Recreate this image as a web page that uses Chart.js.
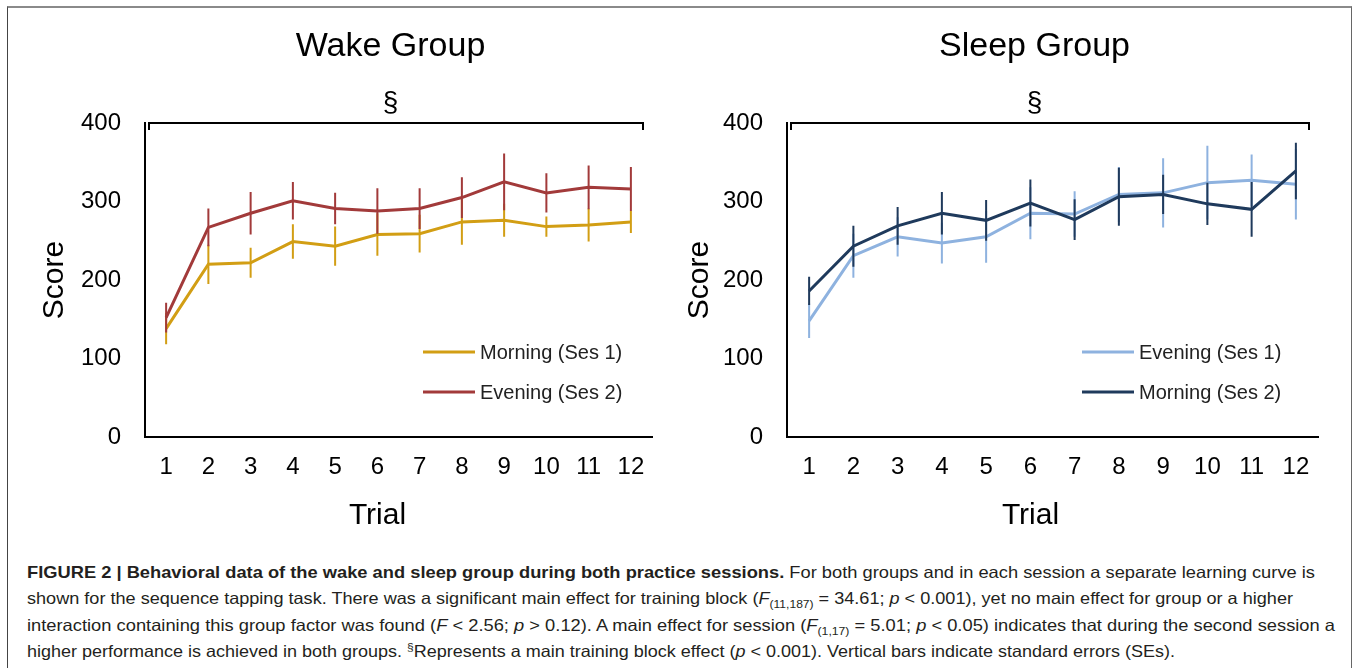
<!DOCTYPE html>
<html>
<head>
<meta charset="utf-8">
<title>Figure 2 - Wake and Sleep Group</title>
<script src="https://cdn.jsdelivr.net/npm/chart.js@4.4.1/dist/chart.umd.min.js"></script>
<style>
  html, body { margin: 0; padding: 0; background: #fff; overflow: hidden; }
  body { width: 1354px; height: 668px; position: relative; font-family: "Liberation Sans", Arial, sans-serif; }
  .frame { position: absolute; left: 7px; top: 6px; width: 1343px; height: 700px;
           border-top: 2px solid #8a8a8a; border-left: 1px solid #444; border-right: 1px solid #666; }
  .panel { position: absolute; top: 0; width: 677px; height: 540px; }
  #wakePanel { left: 0; }
  #sleepPanel { left: 677px; }
  .cap { position: absolute; left: 27px; font-family: "Liberation Sans Narrow", "Liberation Sans", Arial, sans-serif;
         font-size: 16.5px; line-height: 20px; color: #231f20; white-space: nowrap; transform-origin: 0 0; }
  .cap sub, .cap sup { font-size: 11px; line-height: 0; }
</style>
</head>
<body>
<div class="frame"></div>
<div class="panel" id="wakePanel"><canvas id="wakeChart"></canvas></div>
<div class="panel" id="sleepPanel"><canvas id="sleepChart"></canvas></div>

<div class="cap" style="top:562px" data-right="1315"><b>FIGURE 2 | Behavioral data of the wake and sleep group during both practice sessions.</b> For both groups and in each session a separate learning curve is</div>
<div class="cap" style="top:588px" data-right="1293">shown for the sequence tapping task. There was a significant main effect for training block (<i>F</i><sub>(11,187)</sub> = 34.61; <i>p</i> &lt; 0.001), yet no main effect for group or a higher</div>
<div class="cap" style="top:615px" data-right="1335">interaction containing this group factor was found (<i>F</i> &lt; 2.56; <i>p</i> &gt; 0.12). A main effect for session (<i>F</i><sub>(1,17)</sub> = 5.01; <i>p</i> &lt; 0.05) indicates that during the second session a</div>
<div class="cap" style="top:641px" data-right="1175">higher performance is achieved in both groups. <sup>§</sup>Represents a main training block effect (<i>p</i> &lt; 0.001). Vertical bars indicate standard errors (SEs).</div>

<script>
// trial blocks on the x axis
const trials = ["1", "2", "3", "4", "5", "6", "7", "8", "9", "10", "11", "12"];

// wake group
const wakeMorning   = [138, 220, 222, 249, 243, 258, 259, 274, 276, 268, 270, 274];
const wakeMorningSE = [20, 25, 19, 22, 25, 27, 24, 29, 21, 13, 21, 14];
const wakeEvening   = [152, 267, 285, 301, 291, 288, 291, 305, 325, 311, 318, 316];
const wakeEveningSE = [19, 24, 27, 24, 20, 29, 26, 26, 36, 25, 28, 28];

// sleep group
const sleepEvening   = [148, 231, 255, 247, 255, 285, 284, 309, 311, 324, 327, 322];
const sleepEveningSE = [22, 28, 25, 26, 33, 33, 29, 35, 44, 47, 33, 45];
const sleepMorning   = [186, 243, 269, 285, 276, 298, 277, 306, 309, 297, 290, 339];
const sleepMorningSE = [18, 26, 24, 27, 26, 30, 26, 37, 25, 27, 35, 36];

// score axis
const scoreMin = 0;
const scoreMax = 400;
const scoreStep = 100;

const FONT = "'Liberation Sans', Arial, sans-serif";

// vertical SE bars, drawn just before each line
const errorBars = {
  id: "errorBars",
  beforeDatasetDraw(chart, args) {
    const ds = chart.data.datasets[args.index];
    if (!ds.errors) return;
    const y = chart.scales.y;
    const ctx = chart.ctx;
    ctx.save();
    ctx.strokeStyle = ds.borderColor;
    ctx.lineWidth = 2;
    ctx.beginPath();
    args.meta.data.forEach((pt, i) => {
      const v = ds.data[i];
      const e = ds.errors[i];
      ctx.moveTo(pt.x, y.getPixelForValue(v + e));
      ctx.lineTo(pt.x, y.getPixelForValue(v - e));
    });
    ctx.stroke();
    ctx.restore();
  }
};

// group title, § bracket, x title and the in-plot legend
const panelDecor = {
  id: "panelDecor",
  afterDraw(chart, args, opts) {
    const ctx = chart.ctx;
    const a = chart.chartArea;
    const mid = (a.left + a.right) / 2;
    ctx.save();
    ctx.fillStyle = "#000";
    ctx.strokeStyle = "#000";
    ctx.textAlign = "center";

    ctx.textBaseline = "alphabetic";
    ctx.font = "34px " + FONT;
    ctx.fillText(opts.title, mid + opts.titleShift, 56);

    ctx.textBaseline = "middle";
    ctx.font = "28px " + FONT;
    ctx.fillText("§", mid + opts.titleShift, 103);

    const bl = a.left + 4;
    const br = a.right - 9;
    ctx.lineWidth = 2;
    ctx.beginPath();
    ctx.moveTo(bl, a.top + 7);
    ctx.lineTo(bl, a.top);
    ctx.lineTo(br, a.top);
    ctx.lineTo(br, a.top + 7);
    ctx.stroke();

    ctx.textBaseline = "alphabetic";
    ctx.font = "30px " + FONT;
    ctx.fillText("Trial", mid + opts.xTitleShift, 524);

    // legend
    const lx = a.right - opts.legendInset;
    ctx.textAlign = "left";
    ctx.textBaseline = "middle";
    ctx.font = "20px " + FONT;
    chart.data.datasets.forEach((ds, i) => {
      const y = a.top + 229 + i * 40;
      ctx.strokeStyle = ds.borderColor;
      ctx.lineWidth = 3;
      ctx.beginPath();
      ctx.moveTo(lx, y);
      ctx.lineTo(lx + 52, y);
      ctx.stroke();
      ctx.fillStyle = "#222";
      ctx.fillText(ds.label, lx + 57, y + 1);
    });
    ctx.restore();
  }
};

function makePanel(canvasId, series, cfg) {
  const ctx = document.getElementById(canvasId).getContext("2d");
  return new Chart(ctx, {
    type: "line",
    data: {
      labels: trials,
      datasets: series.map((s, i) => ({
        label: s.label,
        data: s.values,
        errors: s.se,
        borderColor: s.color,
        backgroundColor: s.color,
        borderWidth: 3,
        pointRadius: 0,
        tension: 0,
        fill: false,
        order: series.length - i
      }))
    },
    options: {
      responsive: true,
      maintainAspectRatio: false,
      animation: false,
      events: [],
      layout: { padding: { top: 123, left: cfg.padLeft, right: cfg.padRight, bottom: 0 } },
      plugins: {
        legend: { display: false },
        tooltip: { enabled: false },
        panelDecor: { title: cfg.title, titleShift: cfg.titleShift, xTitleShift: cfg.xTitleShift, legendInset: cfg.legendInset }
      },
      scales: {
        x: {
          type: "category",
          offset: true,
          grid: { display: false, drawTicks: false },
          border: { display: true, color: "#000", width: 2 },
          ticks: { color: "#000", font: { size: 24, family: FONT }, padding: 16, maxRotation: 0, autoSkip: false },
          afterFit: (s) => { s.height = 103; }
        },
        y: {
          min: scoreMin,
          max: scoreMax,
          grid: { display: false, drawTicks: false },
          border: { display: true, color: "#000", width: 2 },
          ticks: { stepSize: scoreStep, color: "#000", font: { size: 24, family: FONT }, padding: 24 },
          title: { display: true, text: "Score", color: "#000", font: { size: 30, family: FONT }, padding: { top: cfg.yTitlePad, bottom: 0 } },
          afterFit: (s) => { s.width = cfg.yWidth; }
        }
      }
    },
    plugins: [errorBars, panelDecor]
  });
}

document.addEventListener("DOMContentLoaded", () => {
  try {
    makePanel("wakeChart", [
      { label: "Morning (Ses 1)", values: wakeMorning, se: wakeMorningSE, color: "#d29e14" },
      { label: "Evening (Ses 2)", values: wakeEvening, se: wakeEveningSE, color: "#a23a3a" }
    ], { title: "Wake Group", padLeft: 20, padRight: 25, yWidth: 125, yTitlePad: 17, titleShift: -8, xTitleShift: -21, legendInset: 229 });

    makePanel("sleepChart", [
      { label: "Evening (Ses 1)", values: sleepEvening, se: sleepEveningSE, color: "#8eb2df" },
      { label: "Morning (Ses 2)", values: sleepMorning, se: sleepMorningSE, color: "#1f3a5c" }
    ], { title: "Sleep Group", padLeft: 0, padRight: 36, yWidth: 110, yTitlePad: 5, titleShift: -18, xTitleShift: -22, legendInset: 236 });
  } catch (error) {
    console.error("Chart failed:", error);
  }

  // stretch each caption line to the width it has in the figure
  document.querySelectorAll(".cap").forEach((el) => {
    const target = Number(el.dataset.right) - 27;
    const w = el.getBoundingClientRect().width;
    if (w > 0) el.style.transform = "scaleX(" + (target / w) + ")";
  });
});
</script>
</body>
</html>
